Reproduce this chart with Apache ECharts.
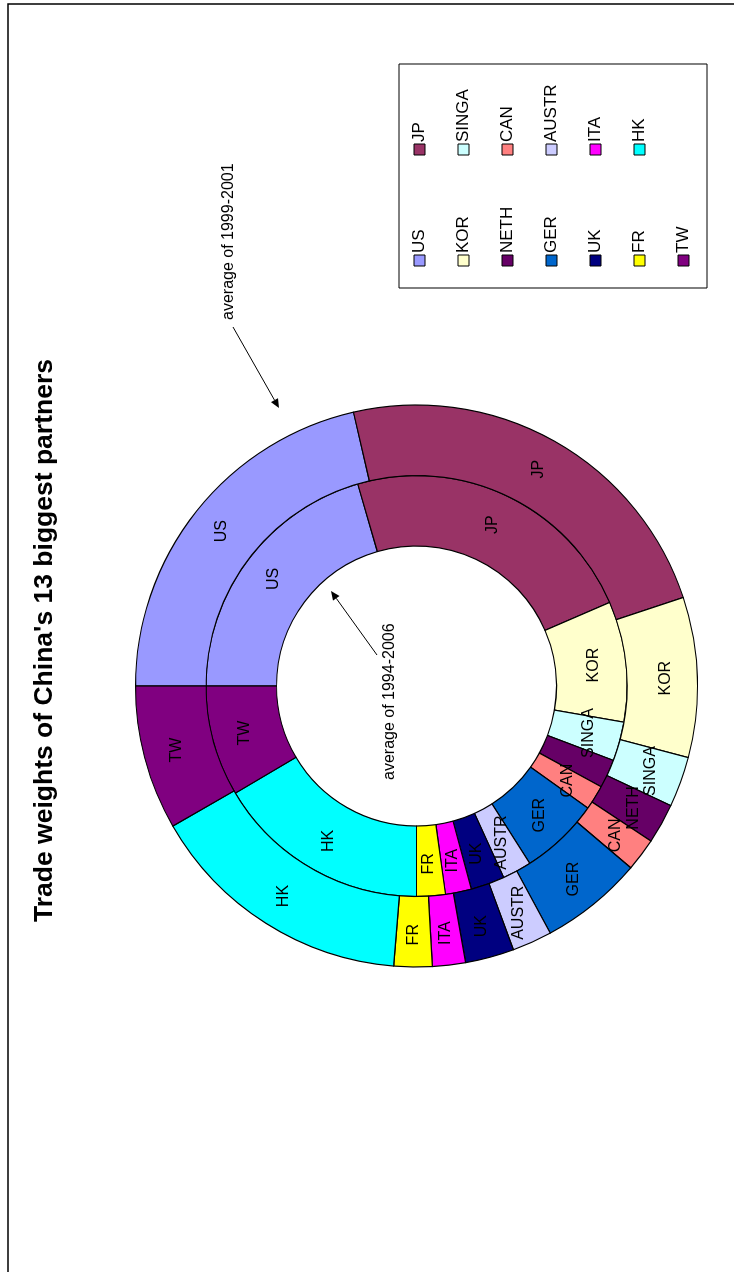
<!DOCTYPE html>
<html><head><meta charset="utf-8">
<script src="https://cdn.jsdelivr.net/npm/echarts@6/dist/echarts.min.js"></script>
<style>
html,body{margin:0;padding:0;width:734px;height:1272px;overflow:hidden;background:#fff;}
#chart{position:absolute;left:0;top:0;width:1272px;height:734px;transform-origin:0 0;transform:translate(0,1272px) rotate(-90deg);}
</style></head><body><div id="chart"></div>
<script>
// ---- data ----
const titleText = "Trade weights of China's 13 biggest partners";
const categories = ['US','JP','KOR','SINGA','NETH','CAN','GER','AUSTR','UK','ITA','FR','HK','TW'];
// inner ring: average of 1994-2006 (share, %)
const avg1994_2006 = [20.5, 23.0, 9.25, 3.0, 2.2, 1.9, 6.1, 2.25, 2.6, 2.0, 2.2, 16.5, 8.5];
// outer ring: average of 1999-2001 (share, %)
const avg1999_2001 = [21.4, 23.5, 9.2, 2.9, 2.3, 1.9, 5.9, 2.3, 2.8, 1.9, 2.2, 15.4, 8.3];
const noteOuter = 'average of 1999-2001';
const noteInner = 'average of 1994-2006';

// ---- styles ----
const palette = ['#9999FF','#993366','#FFFFCC','#CCFFFF','#660066','#FF8080','#0066CC','#CCCCFF','#000080','#FF00FF','#FFFF00','#00FFFF','#800080'];
const FONT = '"Liberation Sans", Arial, Helvetica, sans-serif';

const chart = echarts.init(document.getElementById('chart'), null, {renderer:'canvas'});

function toData(vals){
  return categories.map((c,i)=>({name:c, value:vals[i], itemStyle:{color:palette[i]}}));
}
const colA = categories.filter((c,i)=>i%2===0);
const colB = categories.filter((c,i)=>i%2===1);

function arrowGraphics(x1,y1,x2,y2){
  const a = Math.atan2(y2-y1, x2-x1), L = 9, W = 4;
  const c = Math.cos(a), s = Math.sin(a);
  const bx = x2 - L*c, by = y2 - L*s;
  return [
    {type:'line', shape:{x1:x1,y1:y1,x2:bx,y2:by}, style:{stroke:'#000', lineWidth:1}, z:100},
    {type:'polygon', shape:{points:[[x2,y2],[bx - W*s, by + W*c],[bx + W*s, by - W*c]]}, style:{fill:'#000'}, z:100}
  ];
}

const pieLabel = {show:true, position:'inside', color:'#000', fontSize:16, fontFamily:FONT, textBorderWidth:0};
const legendBase = {
  orient:'vertical', padding:0, itemWidth:11, itemHeight:11, itemGap:27, icon:'rect',
  selectedMode:false,
  itemStyle:{borderColor:'#000', borderWidth:1},
  textStyle:{fontSize:17, fontFamily:FONT, color:'#000', lineHeight:17, padding:[0,0,0,-3]}
};

chart.setOption({
  animation:false,
  backgroundColor:'#fff',
  legend:[
    Object.assign({}, legendBase, {data:colA, left:1005.5, top:411}),
    Object.assign({}, legendBase, {data:colB, left:1116.5, top:411})
  ],
  series:[
    {
      name:noteInner, type:'pie', center:[586,416.5], radius:[140,210.5],
      startAngle:90, clockwise:true, avoidLabelOverlap:false,
      label:pieLabel, labelLine:{show:false},
      itemStyle:{borderColor:'#000', borderWidth:1.2},
      emphasis:{disabled:true},
      data:toData(avg1994_2006)
    },
    {
      name:noteOuter, type:'pie', center:[586,416.5], radius:[210.5,281],
      startAngle:90, clockwise:true, avoidLabelOverlap:false,
      label:pieLabel, labelLine:{show:false},
      itemStyle:{borderColor:'#000', borderWidth:1.2},
      emphasis:{disabled:true},
      data:toData(avg1999_2001)
    }
  ],
  graphic:[
    {type:'rect', shape:{x:-10,y:8,width:1278,height:740}, style:{fill:'none', stroke:'#000', lineWidth:1.5}, z:0, silent:true},
    {type:'rect', shape:{x:984,y:399,width:224,height:308}, style:{fill:'none', stroke:'#000', lineWidth:1}, z:0, silent:true},
    {type:'text', x:631.5, y:44.5, style:{text:titleText, align:'center', verticalAlign:'middle', font:'bold 26.5px '+FONT, fill:'#000'}},
    {type:'text', x:952, y:229, style:{text:noteOuter, align:'left', verticalAlign:'middle', font:'16px '+FONT, fill:'#000'}},
    {type:'text', x:492, y:389.5, style:{text:noteInner, align:'left', verticalAlign:'middle', font:'16px '+FONT, fill:'#000'}, z:100}
  ].concat(arrowGraphics(945,233,864,279)).concat(arrowGraphics(617,377,681,331))
});
</script></body></html>
